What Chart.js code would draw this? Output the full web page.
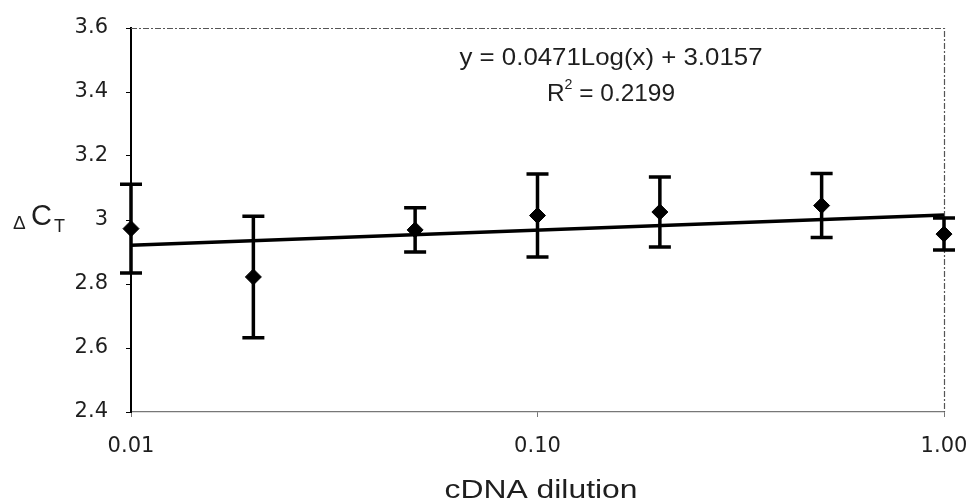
<!DOCTYPE html>
<html>
<head>
<meta charset="utf-8">
<script src="https://cdn.jsdelivr.net/npm/chart.js@4.4.0/dist/chart.umd.min.js"></script>
<style>
  html, body { margin: 0; padding: 0; background: #fff; }
  #wrap { width: 970px; height: 504px; position: relative; }
</style>
</head>
<body>
<div id="wrap"><canvas id="c" width="970" height="504"></canvas></div>
<script>
// ---- data ----
const dilutions = [0.01, 0.02, 0.05, 0.1, 0.2, 0.5, 1.0];
const deltaCt   = [2.973, 2.822, 2.969, 3.014, 3.025, 3.045, 2.956];
const errors    = [0.139, 0.19, 0.069, 0.13, 0.109, 0.10, 0.05];
const trendX    = [0.01, 1.0];
const trendY    = [2.921, 3.016];
const xTickValues = [0.01, 0.1, 1.0];
const xTickLabels = ['0.01', '0.10', '1.00'];
const yTickValues = [2.4, 2.6, 2.8, 3.0, 3.2, 3.4, 3.6];
const yTickLabels = ['2.4', '2.6', '2.8', '3', '3.2', '3.4', '3.6'];
const equationText = 'y = 0.0471Log(x) + 3.0157';
const r2Value = '0.2199';
const xTitle = 'cDNA dilution';

const FONT = '"Liberation Sans", Arial, sans-serif';
const TICKFONT = '"DejaVu Sans", sans-serif';
const TXT = '#1e1e1e';

function drawFit(ctx, text, x, y, font, targetW, align) {
  ctx.font = font;
  const w = ctx.measureText(text).width;
  const s = targetW / w;
  ctx.save();
  ctx.translate(x, y);
  ctx.scale(s, 1);
  ctx.textAlign = align;
  ctx.fillText(text, 0, 0);
  ctx.restore();
}

const errorBarPlugin = {
  id: 'errorBars',
  afterDatasetsDraw(chart) {
    const xs = chart.scales.x, ys = chart.scales.y, ctx = chart.ctx;
    ctx.save();
    ctx.strokeStyle = '#000';
    ctx.lineWidth = 3.5;
    ctx.lineCap = 'butt';
    dilutions.forEach((d, i) => {
      const px = xs.getPixelForValue(d);
      const top = ys.getPixelForValue(deltaCt[i] + errors[i]);
      const bot = ys.getPixelForValue(deltaCt[i] - errors[i]);
      ctx.beginPath();
      ctx.moveTo(px, top); ctx.lineTo(px, bot);
      ctx.moveTo(px - 11, top); ctx.lineTo(px + 11, top);
      ctx.moveTo(px - 11, bot); ctx.lineTo(px + 11, bot);
      ctx.stroke();
    });
    ctx.restore();
  }
};

const decorPlugin = {
  id: 'decor',
  beforeDatasetsDraw(chart) {
    const a = chart.chartArea, ctx = chart.ctx;
    ctx.save();
    ctx.strokeStyle = '#555';
    ctx.lineWidth = 1.2;
    ctx.setLineDash([6, 2, 2, 2]);
    ctx.beginPath();
    ctx.moveTo(a.left, a.top + 0.5); ctx.lineTo(a.right + 0.5, a.top + 0.5);
    ctx.lineTo(a.right + 0.5, a.bottom);
    ctx.stroke();
    ctx.restore();
  },
  afterDraw(chart) {
    const ctx = chart.ctx;
    ctx.save();
    ctx.fillStyle = TXT;
    ctx.textBaseline = 'alphabetic';
    // equation
    drawFit(ctx, equationText, 611, 65, '24px ' + FONT, 303, 'center');
    // R^2 line
    const rPart = 'R', rest = ' = ' + r2Value;
    ctx.font = '24px ' + FONT;
    const wR = ctx.measureText(rPart).width;
    const wRest = ctx.measureText(rest).width;
    ctx.font = '14px ' + FONT;
    const wSup = ctx.measureText('2').width;
    const total = wR + wSup + wRest;
    const s = 128 / total;
    ctx.save();
    ctx.translate(547, 101);
    ctx.scale(s, 1);
    ctx.textAlign = 'left';
    ctx.font = '24px ' + FONT;
    ctx.fillText(rPart, 0, 0);
    ctx.font = '14px ' + FONT;
    ctx.fillText('2', wR, -12);
    ctx.font = '24px ' + FONT;
    ctx.fillText(rest, wR + wSup, 0);
    ctx.restore();
    // x title
    drawFit(ctx, xTitle, 541, 498, '26px ' + FONT, 193, 'center');
    // y title: ΔC_T
    ctx.textAlign = 'left';
    ctx.font = '19px ' + FONT;
    ctx.fillText('\u0394', 13, 229);
    ctx.font = '29px ' + FONT;
    ctx.fillText('C', 31, 225);
    ctx.font = '18px ' + FONT;
    ctx.fillText('T', 54, 232);
    ctx.restore();
  }
};

new Chart(document.getElementById('c'), {
  type: 'scatter',
  data: {
    datasets: [
      {
        label: 'trend',
        type: 'line',
        data: trendX.map((x, i) => ({ x: x, y: trendY[i] })),
        borderColor: '#000',
        borderWidth: 3.5,
        pointRadius: 0,
        fill: false,
        clip: false,
        order: 2
      },
      {
        label: 'ΔCT',
        data: dilutions.map((x, i) => ({ x: x, y: deltaCt[i] })),
        pointStyle: 'rectRot',
        pointRadius: 8,
        pointBackgroundColor: '#000',
        pointBorderColor: '#000',
        pointBorderWidth: 1,
        showLine: false,
        clip: false,
        order: 1
      }
    ]
  },
  plugins: [decorPlugin, errorBarPlugin],
  options: {
    responsive: false,
    animation: false,
    devicePixelRatio: 1,
    layout: { padding: { top: 28, right: 26, left: 0, bottom: 0 } },
    plugins: { legend: { display: false }, tooltip: { enabled: false } },
    scales: {
      x: {
        type: 'logarithmic',
        min: 0.01,
        max: 1,
        afterBuildTicks(scale) { scale.ticks = xTickValues.map(v => ({ value: v })); },
        afterFit(scale) { scale.height = 92; scale.paddingLeft = 0; scale.paddingRight = 0; },
        ticks: {
          callback(value) { const i = xTickValues.findIndex(v => Math.abs(v - value) < 1e-9); return i >= 0 ? xTickLabels[i] : ''; },
          color: TXT,
          font: { family: TICKFONT, size: 21 },
          padding: 17,
          maxRotation: 0,
          autoSkip: false
        },
        grid: { display: true, drawOnChartArea: false, tickLength: 5, color: '#777' },
        border: { display: true, color: '#777', width: 1.2 }
      },
      y: {
        min: 2.4,
        max: 3.6,
        afterBuildTicks(scale) { scale.ticks = yTickValues.map(v => ({ value: v })); },
        afterFit(scale) { scale.width = 131; scale.paddingTop = 0; scale.paddingBottom = 0; },
        ticks: {
          callback(value) { const i = yTickValues.findIndex(v => Math.abs(v - value) < 1e-9); return i >= 0 ? yTickLabels[i] : ''; },
          color: TXT,
          font: { family: TICKFONT, size: 21 },
          padding: 18,
          autoSkip: false
        },
        grid: { display: true, drawOnChartArea: false, tickLength: 5, color: '#000' },
        border: { display: true, color: '#000', width: 2 }
      }
    }
  }
});
</script>
</body>
</html>
